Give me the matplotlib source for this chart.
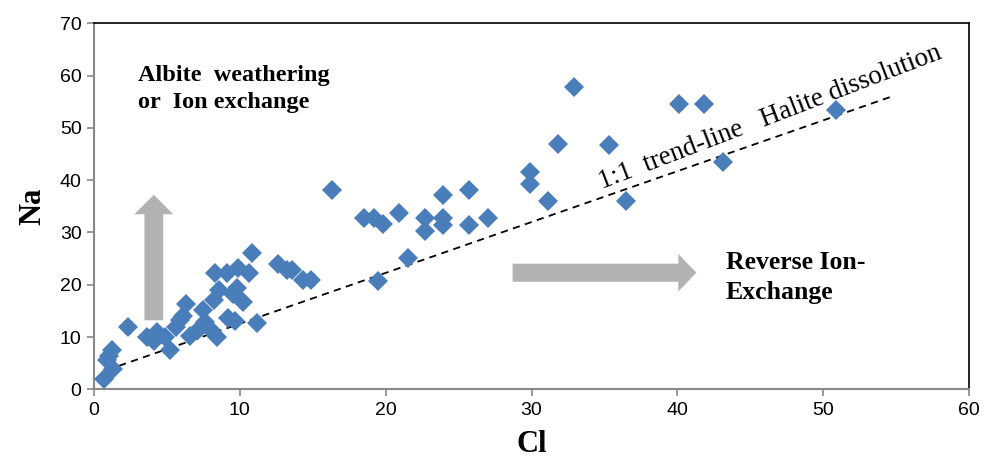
import matplotlib

matplotlib.use("Agg")
import matplotlib.pyplot as plt  # noqa: E402

# Cl vs Na (meq/l)
cl = [0.7, 0.9, 1.2, 1.0, 1.3, 2.3, 3.6, 4.3, 4.1, 5.2, 4.9, 5.6, 5.9, 6.3, 6.1,
      6.6, 7.1, 7.5, 7.6, 8.0, 8.3, 8.4, 8.2, 8.6, 9.1, 9.2, 9.5, 9.7, 9.9, 10.2,
      9.8, 10.6, 10.8, 11.2, 12.6, 13.2, 13.6, 14.3, 14.9, 16.3, 18.5, 19.2, 19.8,
      20.9, 19.5, 21.5, 22.7, 22.7, 23.9, 23.9, 23.9, 25.7, 25.7, 27.0, 29.9, 29.9,
      31.1, 31.8, 32.9, 35.3, 36.5, 40.1, 41.8, 43.1, 50.9]
na = [2.0, 5.6, 7.5, 6.4, 3.9, 11.9, 10.0, 11.0, 9.2, 7.5, 10.0, 12.0, 13.3, 16.3, 14.0,
      10.2, 11.3, 15.1, 12.9, 11.3, 22.2, 10.0, 17.0, 19.0, 22.2, 13.6, 18.2, 13.1, 23.2, 16.7,
      19.4, 22.2, 26.1, 12.7, 24.0, 22.8, 22.8, 21.0, 21.0, 38.2, 32.8, 32.8, 31.6,
      33.7, 20.7, 25.1, 32.8, 30.3, 37.1, 32.8, 31.4, 38.2, 31.4, 32.8, 41.5, 39.2,
      36.0, 46.9, 57.8, 46.7, 36.0, 54.6, 54.6, 43.5, 53.4]

trend_x = [0.9, 54.8]
trend_y = [3.7, 56.1]

x_ticks = [0, 10, 20, 30, 40, 50, 60]
y_ticks = [0, 10, 20, 30, 40, 50, 60, 70]

serif = ["Liberation Serif", "DejaVu Serif"]
sans = ["Liberation Sans", "DejaVu Sans"]

fig = plt.figure(figsize=(9.97, 4.61), dpi=100)
ax = fig.add_axes([0.0943, 0.1555, 0.8777, 0.794])

ax.plot(trend_x, trend_y, ls=(0, (4, 3)), color="black", lw=1.3, zorder=2)
ax.plot(cl, na, ls="none", marker="D", ms=10, color="#4a7ebb",
        markeredgewidth=0, zorder=3)

ax.set_xlim(0, 60)
ax.set_ylim(0, 70)
ax.set_xticks(x_ticks)
ax.set_yticks(y_ticks)
for lab in ax.get_xticklabels() + ax.get_yticklabels():
    lab.set_family(sans)
    lab.set_fontsize(14)
ax.tick_params(direction="out", length=5, color="#888888", width=1.2, pad=4)

for side in ("left", "bottom"):
    ax.spines[side].set_color("#888888")
    ax.spines[side].set_linewidth(1.5)
for side in ("top", "right"):
    ax.spines[side].set_color("black")
    ax.spines[side].set_linewidth(1.2)

ax.set_xlabel("Cl", family=serif, fontsize=22, fontweight="bold", labelpad=8)
ax.set_ylabel("Na", family=serif, fontsize=22, fontweight="bold", labelpad=9)

# process annotations
ax.text(3.0, 57.4, "Albite  weathering\nor  Ion exchange", family=serif,
        fontsize=17.5, fontweight="bold", va="center", ha="left", linespacing=1.4)
ax.text(43.3, 21.4, "Reverse Ion-\nExchange", family=serif,
        fontsize=18.5, fontweight="bold", va="center", ha="left", linespacing=1.35)
ax.text(34.8, 38.4, "1:1  trend-line   Halite dissolution", family=serif,
        fontsize=19.5, rotation=21, rotation_mode="anchor", ha="left", va="baseline")

ax.annotate("", xy=(4.1, 37.2), xytext=(4.1, 13.2),
            arrowprops=dict(arrowstyle="simple,head_width=2.8,head_length=1.4,tail_width=1.35",
                            color="#b2b2b2", lw=0, shrinkA=0, shrinkB=0))
ax.annotate("", xy=(41.3, 22.3), xytext=(28.7, 22.3),
            arrowprops=dict(arrowstyle="simple,head_width=2.7,head_length=1.3,tail_width=1.3",
                            color="#b2b2b2", lw=0, shrinkA=0, shrinkB=0))

fig.savefig("out.png", dpi=100)
plt.close(fig)
